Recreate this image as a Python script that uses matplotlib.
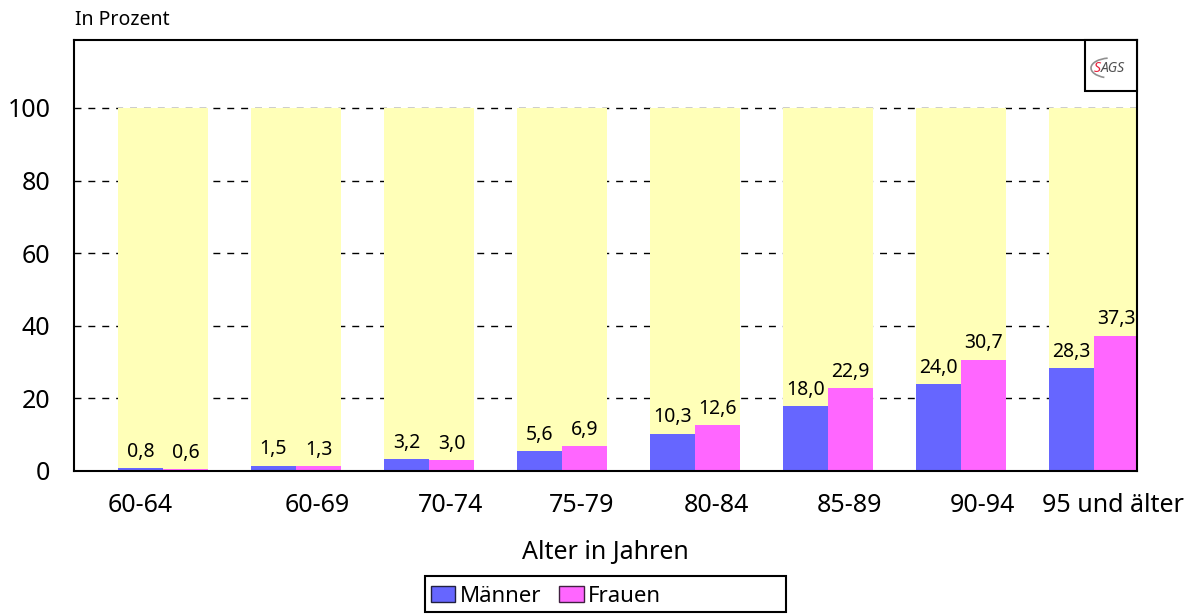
import matplotlib
matplotlib.use("Agg")
import matplotlib.pyplot as plt
from matplotlib.patches import Patch, Rectangle, Arc
import numpy as np

categories = ["60-64", "60-69", "70-74", "75-79", "80-84", "85-89", "90-94", "95 und älter"]
maenner = [0.8, 1.5, 3.2, 5.6, 10.3, 18.0, 24.0, 28.3]
frauen = [0.6, 1.3, 3.0, 6.9, 12.6, 22.9, 30.7, 37.3]
total = [100] * len(categories)
label_shift = [-0.17, 0.16, 0.16, 0.15, 0.16, 0.16, 0.16, 0.14]

FONT = "Noto Sans"
plt.rcParams['font.family'] = [FONT, 'DejaVu Sans']

W, H = 1185, 615
fig = plt.figure(figsize=(W / 100, H / 100), dpi=100)
ax = fig.add_axes([74 / W, 1 - 471 / H, (1137 - 74) / W, (471 - 40) / H])

x = np.arange(len(categories))
bw = 0.677
ax.bar(x, total, width=bw, color="#FFFFB8", zorder=2)
ax.bar(x - bw / 4, maenner, width=bw / 2, color="#6666FF", zorder=3)
ax.bar(x + bw / 4, frauen, width=bw / 2, color="#FF66FF", zorder=3)

for xi, v in zip(x - bw / 4, maenner):
    ax.annotate(f"{v:.1f}".replace(".", ","), (xi, v), xytext=(0, 8), textcoords="offset points",
                ha="center", va="baseline", fontsize=14, zorder=5)
for xi, v in zip(x + bw / 4, frauen):
    ax.annotate(f"{v:.1f}".replace(".", ","), (xi, v), xytext=(0, 8), textcoords="offset points",
                ha="center", va="baseline", fontsize=14, zorder=5)

ax.set_xlim(-0.669, 7.323)
ax.set_ylim(0, 118.7)
ax.set_yticks([0, 20, 40, 60, 80, 100])
ax.set_yticklabels(["0", "20", "40", "60", "80", "100"], fontsize=18)
ax.set_xticks(x + np.array(label_shift))
ax.set_xticklabels(categories, fontsize=18)
ax.tick_params(axis="both", length=0)
ax.tick_params(axis="y", pad=17)
ax.tick_params(axis="x", pad=16)

for yv in [20, 40, 60, 80, 100]:
    ax.axhline(yv, color="black", lw=1, ls=(0, (5, 5)), zorder=1)

for s in ax.spines.values():
    s.set_linewidth(1.5)
    s.set_color("black")
    s.set_zorder(6)

# logo box
ax.add_patch(Rectangle((0.951, 0.882), 0.049, 0.118, transform=ax.transAxes,
                       facecolor="white", edgecolor="black", lw=1.5, zorder=7, clip_on=False))
fig.text(1094 / W, 1 - 68 / H, "S", color="#E8203A", fontsize=10, fontweight="bold",
         style="italic", ha="left", va="center", zorder=8)
fig.text(1101 / W, 1 - 68 / H, "AGS", color="#505050", fontsize=10, fontweight="bold",
         style="italic", ha="left", va="center", zorder=8)
fig.patches.append(Arc((1111 / W, 1 - 68 / H), 40 / W, 20 / H, theta1=100, theta2=250,
                       transform=fig.transFigure, color="#909090", lw=1.2, zorder=8))

fig.text(75 / W, 1 - 20 / H, "In Prozent", fontsize=14, ha="left", va="center")
fig.text(605 / W, 1 - 553 / H, "Alter in Jahren", fontsize=18, ha="center", va="center")

handles = [Patch(facecolor="#6666FF", edgecolor="#202040", lw=1),
           Patch(facecolor="#FF66FF", edgecolor="#402040", lw=1)]
fig.legend(handles, ["Männer", "Frauen"], loc="center left",
           bbox_to_anchor=(431 / W, 1 - 596 / H), ncol=2, frameon=False, fontsize=16,
           handlelength=1.1, handleheight=0.75, handletextpad=0.2, columnspacing=0.8,
           borderpad=0, borderaxespad=0)
fig.patches.append(Rectangle((425 / W, 1 - 612 / H), (786 - 425) / W, (612 - 576) / H,
                             transform=fig.transFigure, facecolor="none", edgecolor="black", lw=1.5))

fig.savefig("out.png", dpi=100)
